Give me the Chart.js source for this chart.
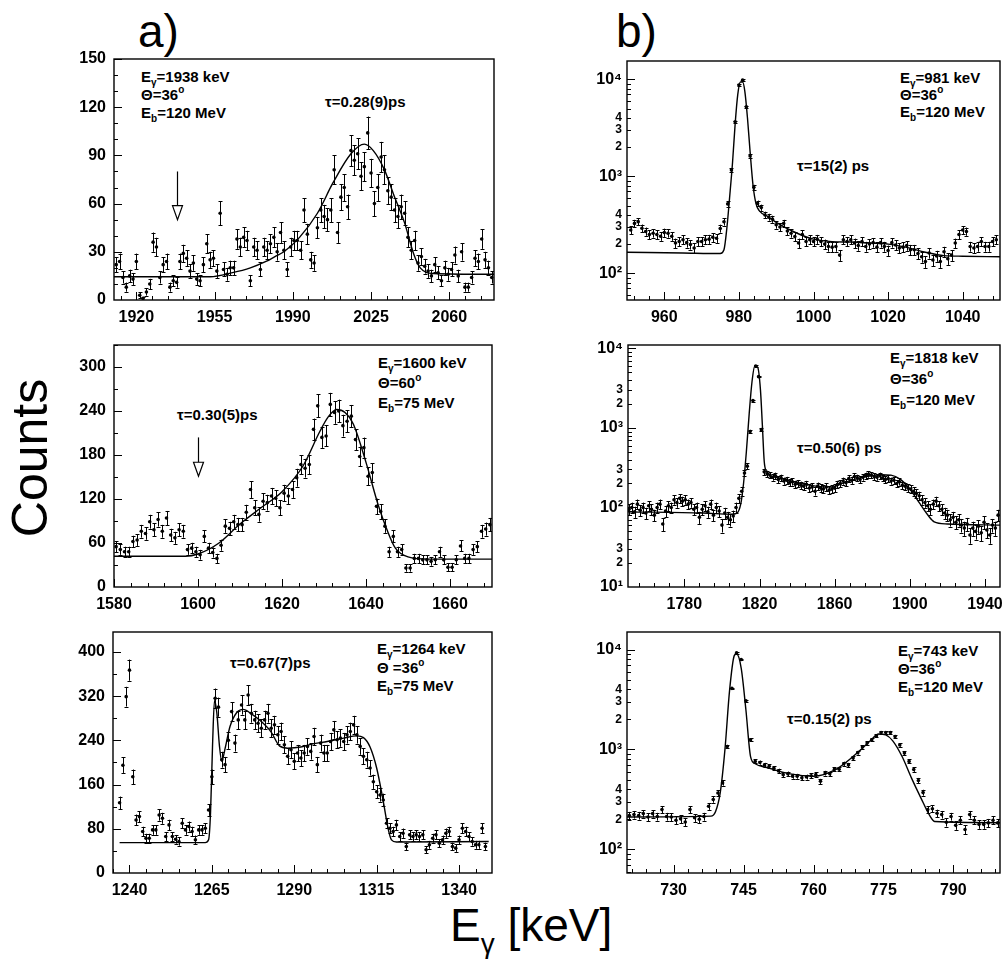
<!DOCTYPE html>
<html><head><meta charset="utf-8">
<script src="https://cdn.jsdelivr.net/npm/chart.js@4/dist/chart.umd.min.js"></script>
<style>
html,body{margin:0;padding:0;background:#fff;}
body{width:1004px;height:960px;position:relative;overflow:hidden;font-family:"Liberation Sans",Arial,Helvetica,sans-serif;color:#000;}
.pan{position:absolute;}
.txt{position:absolute;font-weight:bold;font-size:15px;white-space:nowrap;}
.txt sub,.txt sup{font-size:10px;line-height:0;position:relative;vertical-align:baseline;}
.txt sub{top:4px;}
.txt sup{top:-7px;}
.big{position:absolute;font-size:46px;line-height:46px;white-space:nowrap;}
.big sub{font-size:28px;line-height:0;position:relative;vertical-align:baseline;top:12px;}
</style></head><body>

<div class="big" style="left:138px;top:8px;">a)</div>
<div class="big" style="left:616px;top:8px;">b)</div>
<div class="big" style="left:-70px;top:433px;width:200px;height:50px;line-height:50px;text-align:center;transform:rotate(-90deg);font-size:50px;">Counts</div>
<div class="big" style="left:450px;top:902px;">E<sub>γ</sub> [keV]</div>

<div class="txt" style="left:141px;top:68px;line-height:18px;">E<sub>γ</sub>=1938 keV<br>Θ=36<sup>o</sup><br>E<sub>b</sub>=120 MeV</div>
<div class="txt" style="left:325px;top:93px;line-height:18px;">τ=0.28(9)ps</div>
<div class="txt" style="left:378px;top:353px;line-height:20px;">E<sub>γ</sub>=1600 keV<br>Θ=60<sup>o</sup><br>E<sub>b</sub>=75 MeV</div>
<div class="txt" style="left:177px;top:406px;line-height:18px;">τ=0.30(5)ps</div>
<div class="txt" style="left:377px;top:640px;line-height:18.5px;">E<sub>γ</sub>=1264 keV<br>Θ =36<sup>o</sup><br>E<sub>b</sub>=75 MeV</div>
<div class="txt" style="left:230px;top:654px;line-height:18px;">τ=0.67(7)ps</div>
<div class="txt" style="left:900px;top:69px;line-height:17px;">E<sub>γ</sub>=981 keV<br>Θ=36<sup>o</sup><br>E<sub>b</sub>=120 MeV</div>
<div class="txt" style="left:797px;top:157px;line-height:18px;">τ=15(2) ps</div>
<div class="txt" style="left:890px;top:347px;line-height:21px;">E<sub>γ</sub>=1818 keV<br>Θ=36<sup>o</sup><br>E<sub>b</sub>=120 MeV</div>
<div class="txt" style="left:797px;top:439px;line-height:18px;">τ=0.50(6) ps</div>
<div class="txt" style="left:898px;top:642px;line-height:18px;">E<sub>γ</sub>=743 keV<br>Θ=36<sup>o</sup><br>E<sub>b</sub>=120 MeV</div>
<div class="txt" style="left:787px;top:710px;line-height:18px;">τ=0.15(2) ps</div>

<script>
// ---------------- DATA ----------------
// a1: Eγ=1938 keV (counts per bin, bins start at A1_START, width A1_STEP)
const A1_START = 1911, A1_STEP = 1.5;
const A1_COUNTS = [22,24,14,8,15,13,24,3,1,5,10,36,33,14,22,24,8,12,11,24,29,26,18,23,13,12,22,35,25,26,18,54,19,16,20,20,38,33,39,37,12,33,31,19,33,31,35,39,30,42,31,19,33,37,37,31,56,41,25,23,45,56,52,50,56,81,42,64,70,58,93,87,91,77,83,104,79,60,70,89,81,68,64,56,52,58,54,39,31,37,23,27,21,18,15,22,17,12,20,16,19,28,15,30,8,8,14,26,24,38,25,20,14];
const A1_FIT_E = [1910,1953,1963,1971,1978,1982,1986,1993,2001,2008,2016,2022,2026,2031,2035,2040,2044,2047,2053,2080];
const A1_FIT_C = [14.5,14.5,17,20,24,27,30,39,54,73,91,97,93,81,66,48,29,20,16.5,16];
const A1_XTICKS = [1920,1955,1990,2025,2060];
const A1_YTICKS = [0,30,60,90,120,150];
const A1_ARROW = {x:1938, top:80, tip:50};

// a2: Eγ=1600 keV
const A2_START = 1580.5, A2_STEP = 1;
const A2_COUNTS = [55,51,48,48,62,64,76,73,89,78,92,76,94,71,67,78,76,51,53,48,44,69,53,47,39,57,83,80,89,85,85,102,133,108,99,117,115,124,121,108,128,124,133,149,167,162,167,215,247,204,206,249,238,240,220,226,233,201,178,190,151,156,110,103,83,48,69,48,51,26,26,39,39,37,37,35,37,48,37,27,27,37,56,39,39,51,55,76,79,85];
const A2_FIT_E = [1580,1597,1600,1605,1610,1615,1620,1625,1629,1631,1633,1635,1637,1640,1643,1645,1647,1650,1655,1670];
const A2_FIT_C = [42,42,45,60,86,108,130,165,212,232,242,238,222,170,110,78,53,41,38,38];
const A2_XTICKS = [1580,1600,1620,1640,1660];
const A2_YTICKS = [0,60,120,180,240,300];
const A2_ARROW = {x:1600, top:204, tip:151};

// a3: Eγ=1264 keV
const A3_START = 1237, A3_STEP = 1;
const A3_COUNTS = [127,195,319,367,174,96,102,75,63,63,78,78,105,99,66,87,66,61,57,90,78,84,75,60,78,78,81,114,174,316,300,205,196,240,292,235,277,304,277,322,289,277,271,262,277,289,262,268,250,256,232,211,223,202,217,208,217,229,220,247,196,235,217,217,238,259,241,244,238,250,256,268,250,229,211,205,190,165,147,141,132,90,81,75,87,66,72,48,69,66,69,66,69,42,51,63,69,54,60,72,75,48,45,60,81,75,66,57,51,51,81,48];
const A3_FIT_E = [1237,1263,1264,1264.6,1265.2,1265.8,1266.5,1267.3,1268,1269,1270.5,1272.5,1274.5,1277,1280,1283,1285.5,1288,1292,1296,1300,1305,1309,1311,1313,1315,1317,1318.5,1319.5,1321,1349];
const A3_FIT_C = [55,55,60,110,230,312,290,230,202,225,265,290,296,288,274,255,230,226,228,234,238,244,248,245,228,190,130,80,60,56,57];
const A3_XTICKS = [1240,1265,1290,1315,1340];
const A3_YTICKS = [0,80,160,240,320,400];

// b1: Eγ=981 keV (log)
const B1_START = 951, B1_STEP = 1;
const B1_COUNTS = [280,327,341,291,270,251,259,251,241,263,259,241,205,213,222,207,198,182,213,213,222,225,235,230,290,340,520,1160,3650,8740,9840,5220,1620,773,526,476,400,380,362,317,300,327,273,259,239,205,251,213,222,213,225,213,200,189,186,189,154,222,213,222,205,193,213,189,201,207,186,207,189,172,207,196,182,186,193,175,175,160,148,132,162,137,151,132,167,141,154,205,251,280,270,189,182,189,213,189,189,213,222];
const B1_FIT_E = [950,965,975,976,976.8,977.5,978.3,979,979.7,980.4,981,981.6,982.3,983,983.8,984.6,985.5,988,990,995,1000,1005,1010,1015,1020,1025,1030,1035,1040,1050];
const B1_FIT_C = [165,162,160,175,300,600,1400,3500,7000,9400,9400,7500,4000,1800,800,520,440,380,335,265,225,212,210,205,200,185,165,152,150,148];
const B1_XTICKS = [960,980,1000,1020,1040];
const B1_YTICKS = [100,200,300,400,1000,2000,3000,4000,10000];

// b2: Eγ=1818 keV (log)
const B2_START = 1750.5, B2_STEP = 1.5;
const B2_COUNTS = [95,100,88,110,92,100,85,105,95,80,100,110,62,90,105,100,125,115,130,120,125,110,115,95,100,75,95,105,88,110,80,100,90,60,85,75,70,78,100,130,160,270,330,900,2200,6000,4400,950,280,265,255,240,250,225,235,215,220,205,210,195,200,190,185,195,175,180,160,185,175,170,180,165,170,175,195,200,215,205,230,220,245,235,225,240,250,260,255,245,240,250,235,225,230,215,220,200,210,190,185,175,170,160,150,140,125,115,105,95,110,120,105,95,85,80,70,75,65,70,60,55,62,45,55,50,58,48,65,52,45,60,55,80];
const B2_FIT_E = [1750,1790,1805,1808,1810,1811.5,1813,1814.5,1816,1817.5,1819,1820.5,1821.5,1822.5,1823.5,1830,1840,1850,1858,1865,1875,1885,1890,1895,1900,1905,1910,1913,1920,1948];
const B2_FIT_C = [88,85,82,85,110,200,500,1500,3800,6000,5800,3000,1100,380,290,235,205,185,180,205,240,258,255,225,170,115,78,66,62,60];
const B2_XTICKS = [1780,1820,1860,1900,1940];
const B2_YTICKS = [10,20,30,100,200,300,1000,2000,3000,10000];

// b3: Eγ=743 keV (log)
const B3_START = 720.5, B3_STEP = 1;
const B3_COUNTS = [218,223,218,228,211,228,213,250,213,211,196,202,188,250,207,200,213,270,316,367,463,1070,4090,9260,7950,3080,1250,760,740,700,680,650,610,560,570,540,540,520,530,545,560,480,580,570,635,635,720,700,820,930,1060,1160,1250,1370,1480,1480,1480,1350,1110,920,760,630,490,370,250,255,230,223,187,213,174,196,158,223,196,178,178,184,196,184];
const B3_FIT_E = [720,738,739,740,741,742,743,743.5,744.5,745.5,746.5,747.5,750,755,760,765,770,772,774,775.5,777,779,781,783,785,786,800];
const B3_FIT_C = [211,215,240,370,990,3900,8700,9100,6500,2500,850,720,660,570,540,640,980,1200,1430,1400,1220,850,520,330,215,190,185];
const B3_XTICKS = [730,745,760,775,790];
const B3_YTICKS = [100,200,300,400,1000,2000,3000,4000,10000];

// ---------------- DRAWING ----------------
const FONT = '"Liberation Sans", Arial, Helvetica, sans-serif';
const SUP = {'0':'\u2070','1':'\u00b9','2':'\u00b2','3':'\u00b3','4':'\u2074'};
function isPow10(v){ const e = Math.round(Math.log10(v)); return Math.abs(v - Math.pow(10,e)) < 1e-6*v; }
function logLabel(v){
  if (isPow10(v)) return '10' + SUP[String(Math.round(Math.log10(v)))];
  return String(Math.round(v / Math.pow(10, Math.floor(Math.log10(v)+1e-9))));
}

const framePlugin = {
  id: 'frame',
  afterDraw(chart, args, o) {
    const ctx = chart.ctx, ca = chart.chartArea, xs = chart.scales.x, ys = chart.scales.y;
    ctx.save();
    ctx.strokeStyle = '#000';
    ctx.lineWidth = 1;
    ctx.beginPath();
    const tickX = (v, len) => {
      const px = Math.round(xs.getPixelForValue(v)) + 0.5;
      if (px < ca.left || px > ca.right) return;
      ctx.moveTo(px, ca.bottom); ctx.lineTo(px, ca.bottom - len);
    };
    const tickY = (v, len) => {
      const py = Math.round(ys.getPixelForValue(v)) + 0.5;
      if (py < ca.top || py > ca.bottom) return;
      ctx.moveTo(ca.left, py); ctx.lineTo(ca.left + len, py);
    };
    const x0 = o.xTicks[0];
    for (let v = x0; v >= xs.min; v -= o.xMinor) tickX(v, 4);
    for (let v = x0; v <= xs.max; v += o.xMinor) tickX(v, 4);
    o.xTicks.forEach(v => tickX(v, 8));
    if (o.log) {
      const d0 = Math.floor(Math.log10(ys.min)), d1 = Math.ceil(Math.log10(ys.max));
      for (let d = d0; d <= d1; d++) {
        for (let m = 1; m <= 9; m++) {
          const v = m * Math.pow(10, d);
          if (v < ys.min || v > ys.max) continue;
          tickY(v, m === 1 ? 8 : 4);
        }
      }
    } else {
      for (let v = 0; v <= ys.max; v += o.yMinor) tickY(v, 4);
      o.yTicks.forEach(v => tickY(v, 8));
    }
    ctx.stroke();
    ctx.lineWidth = 1.4;
    ctx.strokeRect(ca.left, ca.top, ca.right - ca.left, ca.bottom - ca.top);
    ctx.restore();
  }
};

const errPlugin = {
  id: 'errbars',
  afterDatasetsDraw(chart, args, o) {
    const ctx = chart.ctx, ca = chart.chartArea, ys = chart.scales.y;
    const ds = chart.data.datasets[0], meta = chart.getDatasetMeta(0);
    ctx.save();
    ctx.beginPath(); ctx.rect(ca.left, ca.top, ca.right - ca.left, ca.bottom - ca.top); ctx.clip();
    ctx.strokeStyle = '#000'; ctx.lineWidth = 1;
    ctx.beginPath();
    meta.data.forEach((pt, i) => {
      const v = ds.data[i].y, e = o.k * Math.sqrt(Math.max(v, 1));
      const yHi = ys.getPixelForValue(v + e);
      const yLo = ys.getPixelForValue(Math.max(v - e, o.log ? v * 0.3 : 0));
      const x = Math.round(pt.x) + 0.5;
      ctx.moveTo(x, yHi); ctx.lineTo(x, yLo);
      ctx.moveTo(x - 2, Math.round(yHi) + 0.5); ctx.lineTo(x + 2, Math.round(yHi) + 0.5);
      ctx.moveTo(x - 2, Math.round(yLo) + 0.5); ctx.lineTo(x + 2, Math.round(yLo) + 0.5);
    });
    ctx.stroke();
    ctx.restore();
  }
};

const arrowPlugin = {
  id: 'arrows',
  afterDatasetsDraw(chart, args, o) {
    if (!o.arrow) return;
    const ctx = chart.ctx, xs = chart.scales.x, ys = chart.scales.y, a = o.arrow;
    const x = Math.round(xs.getPixelForValue(a.x)) + 0.5;
    const yT = ys.getPixelForValue(a.top), yB = ys.getPixelForValue(a.tip);
    const hl = 14, hw = 5;
    ctx.save();
    ctx.strokeStyle = '#000'; ctx.lineWidth = 1.2;
    ctx.beginPath(); ctx.moveTo(x, yT); ctx.lineTo(x, yB - hl); ctx.stroke();
    ctx.beginPath(); ctx.moveTo(x - hw, yB - hl); ctx.lineTo(x + hw, yB - hl); ctx.lineTo(x, yB); ctx.closePath();
    ctx.fillStyle = '#fff'; ctx.fill(); ctx.stroke();
    ctx.restore();
  }
};

function panel(p) {
  const yW = p.yW, xH = 34, padT = 14, padR = p.padR;
  const cw = yW + (p.box.R - p.box.L) + padR;
  const ch = padT + (p.box.B - p.box.T) + xH;
  const div = document.createElement('div');
  div.className = 'pan';
  div.style.left = (p.box.L - yW) + 'px';
  div.style.top = (p.box.T - padT) + 'px';
  const cv = document.createElement('canvas');
  cv.width = cw; cv.height = ch; cv.style.width = cw + 'px'; cv.style.height = ch + 'px';
  div.appendChild(cv);
  document.body.appendChild(div);

  const pts = p.counts.map((c, i) => ({x: p.start + i * p.step, y: c}));
  const fit = p.fitE.map((e, i) => ({x: e, y: p.fitC[i]}));

  new Chart(cv, {
    type: 'scatter',
    data: {datasets: [
      {data: pts, pointRadius: 1.8, pointBackgroundColor: '#000', pointBorderWidth: 0, pointStyle: 'circle'},
      {data: fit, showLine: true, pointRadius: 0, borderColor: '#000', borderWidth: 1.4, cubicInterpolationMode: 'monotone', fill: false}
    ]},
    options: {
      responsive: false, animation: false, devicePixelRatio: 1,
      layout: {padding: {top: padT, right: padR, left: 0, bottom: 0}},
      events: [],
      plugins: {
        legend: {display: false}, tooltip: {enabled: false},
        frame: {xTicks: p.xTicks, xMinor: p.xMinor, yTicks: p.yTicks, yMinor: p.yMinor, log: p.log},
        errbars: {k: p.errK, log: p.log},
        arrows: {arrow: p.arrow}
      },
      scales: {
        x: {
          type: 'linear', min: p.xmin, max: p.xmax,
          grid: {display: false, drawTicks: false}, border: {display: false},
          ticks: {color: '#000', font: {family: FONT, size: 16, weight: 'bold'}, padding: 8, maxRotation: 0, autoSkip: false,
                  callback: v => String(v)},
          afterBuildTicks: s => { s.ticks = p.xTicks.map(v => ({value: v})); },
          afterFit: s => { s.height = xH; s.paddingLeft = 0; s.paddingRight = 0; }
        },
        y: {
          type: p.log ? 'logarithmic' : 'linear', min: p.ymin, max: p.ymax,
          grid: {display: false, drawTicks: false}, border: {display: false},
          ticks: {
            color: '#000', padding: p.yPad, autoSkip: false,
            font: ctx => (p.log && ctx.tick && !isPow10(ctx.tick.value)) ? {family: FONT, size: 12, weight: 'bold'} : {family: FONT, size: 16, weight: 'bold'},
            callback: v => p.log ? logLabel(v) : String(v)
          },
          afterBuildTicks: s => { s.ticks = p.yTicks.map(v => ({value: v})); },
          afterFit: s => { s.width = yW; s.paddingTop = 0; s.paddingBottom = 0; }
        }
      }
    },
    plugins: [framePlugin, errPlugin, arrowPlugin]
  });
}

panel({box:{L:114,T:59,R:494,B:300}, yW:60, padR:10, yPad:8, xmin:1910, xmax:2080, ymin:0, ymax:150, log:false,
  xTicks:A1_XTICKS, xMinor:7, yTicks:A1_YTICKS, yMinor:10, start:A1_START, step:A1_STEP, counts:A1_COUNTS,
  fitE:A1_FIT_E, fitC:A1_FIT_C, errK:1.0, arrow:A1_ARROW});
panel({box:{L:114,T:345,R:492,B:587}, yW:60, padR:10, yPad:8, xmin:1580, xmax:1670, ymin:0, ymax:330, log:false,
  xTicks:A2_XTICKS, xMinor:4, yTicks:A2_YTICKS, yMinor:30, start:A2_START, step:A2_STEP, counts:A2_COUNTS,
  fitE:A2_FIT_E, fitC:A2_FIT_C, errK:1.0, arrow:A2_ARROW});
panel({box:{L:113,T:632,R:492,B:873}, yW:60, padR:10, yPad:8, xmin:1235, xmax:1350, ymin:0, ymax:436, log:false,
  xTicks:A3_XTICKS, xMinor:5, yTicks:A3_YTICKS, yMinor:40, start:A3_START, step:A3_STEP, counts:A3_COUNTS,
  fitE:A3_FIT_E, fitC:A3_FIT_C, errK:1.0, arrow:null});
panel({box:{L:627,T:61,R:1003,B:300}, yW:50, padR:1, yPad:5, xmin:950, xmax:1050, ymin:53, ymax:15500, log:true,
  xTicks:B1_XTICKS, xMinor:4, yTicks:B1_YTICKS, yMinor:0, start:B1_START, step:B1_STEP, counts:B1_COUNTS,
  fitE:B1_FIT_E, fitC:B1_FIT_C, errK:1.6, arrow:null});
panel({box:{L:628,T:345,R:1003,B:587}, yW:50, padR:1, yPad:5, xmin:1750, xmax:1948, ymin:10, ymax:11000, log:true,
  xTicks:B2_XTICKS, xMinor:8, yTicks:B2_YTICKS, yMinor:0, start:B2_START, step:B2_STEP, counts:B2_COUNTS,
  fitE:B2_FIT_E, fitC:B2_FIT_C, errK:1.5, arrow:null});
panel({box:{L:627,T:632,R:1003,B:873}, yW:50, padR:1, yPad:5, xmin:720, xmax:800, ymin:58, ymax:15000, log:true,
  xTicks:B3_XTICKS, xMinor:3, yTicks:B3_YTICKS, yMinor:0, start:B3_START, step:B3_STEP, counts:B3_COUNTS,
  fitE:B3_FIT_E, fitC:B3_FIT_C, errK:1.3, arrow:null});
</script>
</body></html>
